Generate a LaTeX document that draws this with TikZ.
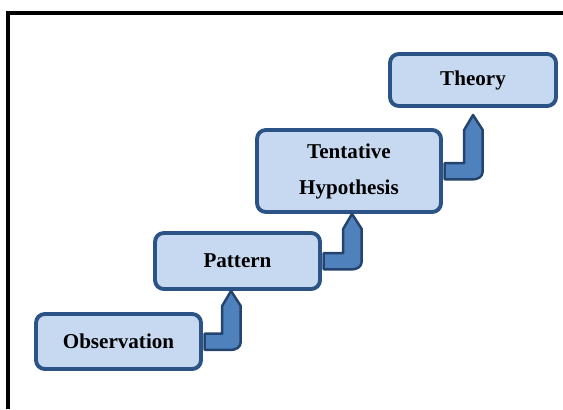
\documentclass[tikz,border=0pt]{standalone}
\usepackage{fontspec}
\setmainfont{Liberation Serif}
\usetikzlibrary{calc,positioning}
\tikzset{>=stealth}
\definecolor{boxFill}{HTML}{C6D9F1}
\definecolor{boxLine}{HTML}{2C5385}
\definecolor{arrowFill}{HTML}{4F81BD}
\definecolor{arrowLine}{HTML}{24446E}
\tikzset{
  stagebox/.style={draw=boxLine,fill=boxFill,line width=2.2pt,rounded corners=5pt,
    font=\bfseries\fontsize{12}{22}\selectfont,align=center,inner sep=0pt},
  steparrow/.style={draw=arrowLine,fill=arrowFill,line width=1.4pt,line join=round},
}
% bent arrow from the right side of #2 up to the bottom of #3, tip shifted by #1
\newcommand{\stepup}[3][(0,0)]{%
  \draw[steparrow] let \p1=(#2.east), \p2=($(#3.south)+#1$) in
    (\x1+1pt,\y1+4.5pt) -- (\x2-5pt,\y1+4.5pt) -- (\x2-5pt,\y2-8.5pt) -- (\x2,\y2)
    -- (\x2+5.5pt,\y2-8.5pt) -- (\x2+5.5pt,\y1-0.5pt) to[out=-90,in=0] (\x2+0pt,\y1-4.8pt)
    -- (\x1+1pt,\y1-4.8pt) -- cycle;}
\begin{document}
\begin{tikzpicture}[x=0.02cm,y=0.02cm]
\useasboundingbox (0,0) rectangle (563,409);
\draw[line width=2.2pt] (8,0) -- (8,396) -- (563,396);% frame
\node[stagebox,minimum width=3.3cm,minimum height=1.1cm] (obs) at (118.5,67.5) {Observation};
\node[stagebox,minimum width=3.3cm,minimum height=1.12cm] (pat) at (237.5,148) {Pattern};
\node[stagebox,minimum width=3.68cm,minimum height=1.64cm] (hyp) at (349,238) {\raisebox{-1.5pt}{Tentative}\\Hypothesis};
\node[stagebox,minimum width=3.32cm,minimum height=1.04cm] (the) at (473,329) {Theory};
\stepup[(-3.7pt,0)]{obs}{pat}
\stepup[(1.7pt,0)]{pat}{hyp}
\stepup[(0,-4pt)]{hyp}{the}
\end{tikzpicture}
\end{document}
